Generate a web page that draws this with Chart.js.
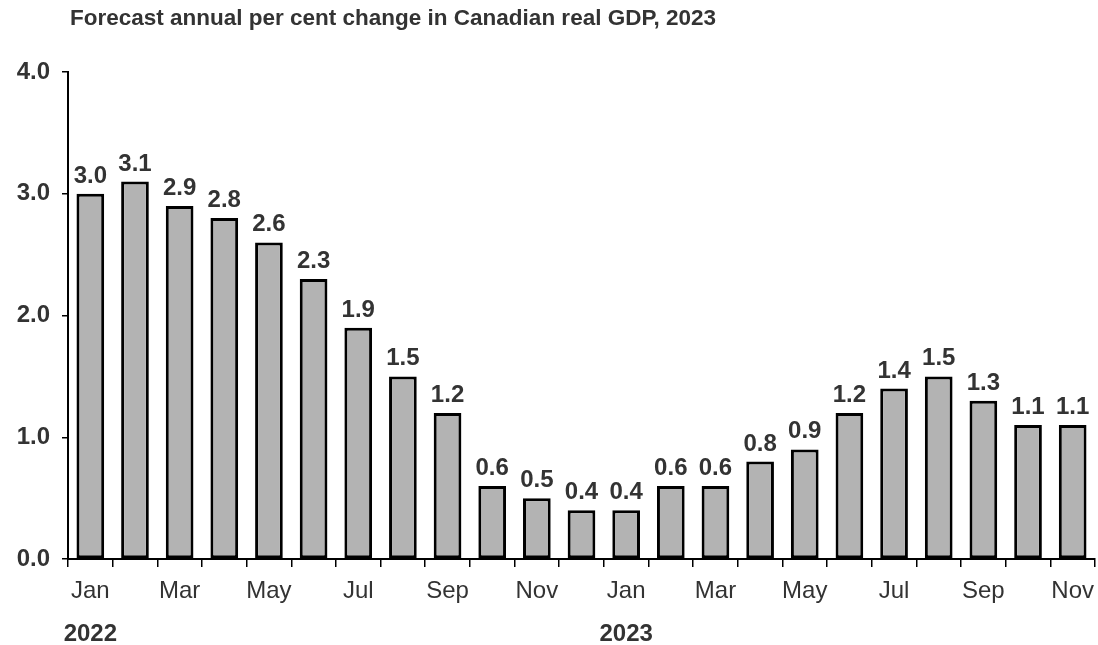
<!DOCTYPE html>
<html>
<head>
<meta charset="utf-8">
<script src="https://cdn.jsdelivr.net/npm/chart.js@4.4.1/dist/chart.umd.min.js"></script>
<style>
  html, body { margin: 0; padding: 0; background: #ffffff; }
  #wrap { position: relative; width: 1098px; height: 645px; }
  canvas { display: block; }
</style>
</head>
<body>
<div id="wrap"><canvas id="chart" width="1098" height="645"></canvas></div>
<script>
// Monthly forecasts of Canadian real GDP growth for 2023
const months = ['Jan','Feb','Mar','Apr','May','Jun','Jul','Aug','Sep','Oct','Nov','Dec',
                'Jan','Feb','Mar','Apr','May','Jun','Jul','Aug','Sep','Oct','Nov'];
const forecastValues = [3.0, 3.1, 2.9, 2.8, 2.6, 2.3, 1.9, 1.5, 1.2, 0.6, 0.5, 0.4,
                        0.4, 0.6, 0.6, 0.8, 0.9, 1.2, 1.4, 1.5, 1.3, 1.1, 1.1];
const yearLabels = [{ index: 0, text: '2022' }, { index: 12, text: '2023' }];
const yTicks = [0, 1, 2, 3, 4];
const titleText = 'Forecast annual per cent change in Canadian real GDP, 2023';

const FONT = '"Liberation Sans", Arial, sans-serif';
const INK = '#333333';

const titlePlugin = {
  id: 'topTitle',
  afterDraw(chart) {
    const ctx = chart.ctx;
    ctx.save();
    ctx.font = 'bold 22.5px ' + FONT;
    ctx.fillStyle = INK;
    ctx.textAlign = 'left';
    ctx.textBaseline = 'alphabetic';
    ctx.fillText(titleText, 70, 25);
    ctx.restore();
  }
};

const valueLabels = {
  id: 'valueLabels',
  afterDatasetsDraw(chart) {
    const ctx = chart.ctx;
    const meta = chart.getDatasetMeta(0);
    ctx.save();
    ctx.font = 'bold 24px ' + FONT;
    ctx.fillStyle = INK;
    ctx.textAlign = 'center';
    ctx.textBaseline = 'alphabetic';
    meta.data.forEach((bar, i) => {
      ctx.fillText(forecastValues[i].toFixed(1), bar.x, bar.y - 11);
    });
    ctx.restore();
  }
};

const yearPlugin = {
  id: 'yearLabels',
  afterDraw(chart) {
    const ctx = chart.ctx;
    const x = chart.scales.x;
    ctx.save();
    ctx.font = 'bold 24px ' + FONT;
    ctx.fillStyle = INK;
    ctx.textAlign = 'center';
    ctx.textBaseline = 'alphabetic';
    yearLabels.forEach(y => {
      ctx.fillText(y.text, x.getPixelForValue(y.index), 641);
    });
    ctx.restore();
  }
};

new Chart(document.getElementById('chart'), {
  type: 'bar',
  data: {
    labels: months,
    datasets: [{
      data: forecastValues,
      backgroundColor: '#b3b3b3',
      borderColor: '#000000',
      borderWidth: 3,
      borderSkipped: false,
      categoryPercentage: 1,
      barPercentage: 0.62
    }]
  },
  options: {
    responsive: false,
    animation: false,
    layout: { padding: { top: 72, right: 0, bottom: 0, left: 0 } },
    plugins: {
      legend: { display: false },
      tooltip: { enabled: false },
      title: { display: false }
    },
    scales: {
      x: {
        offset: true,
        afterFit(scale) { scale.height = 86; scale.paddingRight = 3; },
        grid: {
          offset: true,
          drawOnChartArea: false,
          drawTicks: true,
          tickLength: 8,
          color: '#000000',
          lineWidth: 1.5
        },
        border: { display: true, color: '#000000', width: 2 },
        ticks: {
          autoSkip: false,
          maxRotation: 0,
          padding: 10,
          color: INK,
          font: { family: FONT, size: 24 },
          callback(value, index) { return index % 2 === 0 ? months[index] : ''; }
        }
      },
      y: {
        min: 0,
        max: 4,
        afterFit(scale) { scale.width = 68; },
        afterBuildTicks(scale) { scale.ticks = yTicks.map(v => ({ value: v })); },
        grid: {
          drawOnChartArea: false,
          drawTicks: true,
          tickLength: 6,
          color: '#000000',
          lineWidth: 1.5
        },
        border: { display: true, color: '#000000', width: 2 },
        ticks: {
          padding: 12,
          color: INK,
          font: { family: FONT, size: 24, weight: 'bold' },
          callback(value) { return Number(value).toFixed(1); }
        }
      }
    }
  },
  plugins: [titlePlugin, valueLabels, yearPlugin]
});
</script>
</body>
</html>
